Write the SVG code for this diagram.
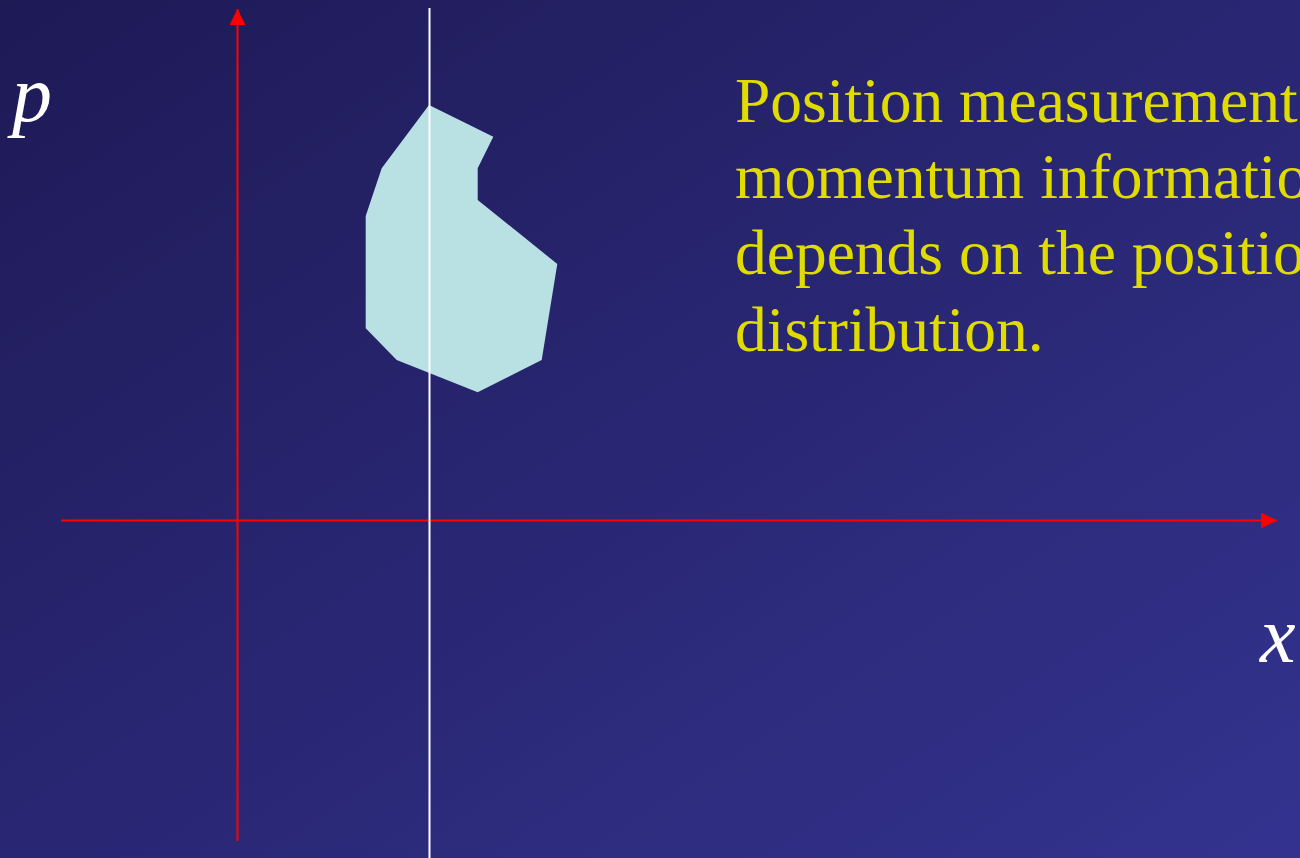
<svg xmlns="http://www.w3.org/2000/svg" width="1300" height="858" viewBox="0 0 1300 858">
<defs>
<linearGradient id="bg" x1="0" y1="0" x2="1" y2="1">
<stop offset="0" stop-color="#1e1a56"/>
<stop offset="1" stop-color="#33338f"/>
</linearGradient>
<marker id="ah" markerWidth="16" markerHeight="16" refX="16" refY="8" orient="auto" markerUnits="userSpaceOnUse">
<path d="M0,0 L16,8 L0,16 Z" fill="#ff0000"/>
</marker>
<style>
.axis{stroke:#ff0000;stroke-width:2;fill:none}
.lbl{font-family:"Liberation Serif","Times New Roman",serif;font-style:italic;fill:#ffffff;font-size:80px}
.txt{font-family:"Liberation Serif","Times New Roman",serif;fill:#e0dc00;font-size:63.5px}
</style>
</defs>
<rect x="0" y="0" width="1300" height="858" fill="url(#bg)"/>
<g id="region">
<polygon points="429,105 493.3,136.7 477.7,168.3 477.7,200 557.3,264 541.7,360 477.7,392.3 396.7,360 365.7,328.3 365.7,216 381.7,168.3" fill="#b9e0e3"/>
</g>
<g id="connectors">
<line class="axis" x1="237.5" y1="841" x2="237.5" y2="9" marker-end="url(#ah)"/>
<line class="axis" x1="61" y1="520.5" x2="1277" y2="520.5" marker-end="url(#ah)"/>
<line x1="429.5" y1="8" x2="429.5" y2="858" stroke="#ffffff" stroke-width="2"/>
</g>
<g id="label-p"><text class="lbl" x="12" y="121">p</text></g>
<g id="label-x"><text class="lbl" x="1260" y="662">x</text></g>
<g id="caption">
<text class="txt" x="735" y="122">Position measurement</text>
<text class="txt" x="735" y="198">momentum information</text>
<text class="txt" x="735" y="274">depends on the position</text>
<text class="txt" x="735" y="351">distribution.</text>
</g>
</svg>
